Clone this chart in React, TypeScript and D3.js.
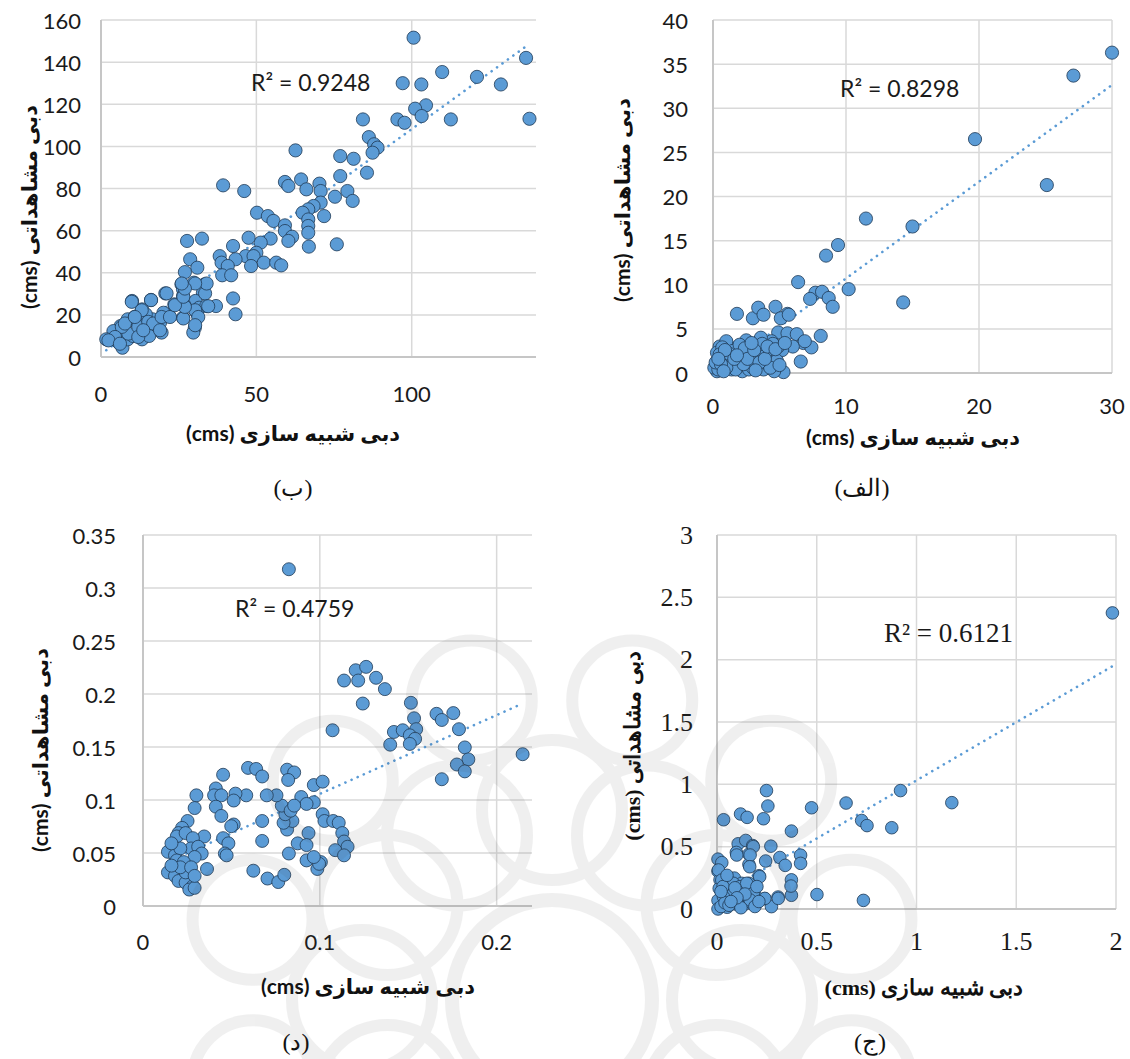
import React from "react";
import * as d3 from "d3";

// ---------- DATA ----------
// Panel (ب): simulated vs observed
const pointsB: [number, number][] = [
  [100.6,151.6],[136.8,142],[109.8,135.3],[121,133],[97.1,130],[103.1,129.4],[128.7,129.4],[104.6,119.5],[101.1,117.9],[103.2,114.4],
  [84.3,112.8],[95.4,112.8],[97.7,111.2],[112.6,112.8],[137.9,113.1],[86.2,104.4],[87.9,101],[89,99.4],[87.4,97],[62.6,98.1],
  [77,95.4],[81.3,94.1],[85.6,87.5],[77,85.9],[39.3,81.5],[46.1,78.8],[59.2,83.1],[60.3,81.2],[64.4,84.3],[70.3,82.3],
  [66.1,79.6],[70.7,78.8],[79.3,78.8],[75.3,76.1],[81,74.1],[70.7,73.3],[68.4,71.7],[66.7,70.1],[64.9,68.5],[71.8,66.9],
  [66.7,65.3],[66.7,62.2],[66.7,59],[66.9,52.4],[75.9,53.5],[50.2,68.5],[53.7,66.9],[55.5,64.6],[59.2,62.5],[59.2,59.8],
  [61.5,57.1],[60.3,55.1],[54.6,56.2],[51.4,54.3],[47.5,56.6],[27.7,55.1],[32.5,56.2],[42.5,52.7],[50,49.5],[46.6,47.9],
  [49.1,47.9],[43.3,46.4],[38.2,47.9],[38.8,44.8],[40.8,43.2],[48.3,43.2],[52.4,44.8],[56.4,44.8],[58,43.5],[39,38.8],
  [41.9,38.8],[28.7,46.4],[31,42.4],[27,40.3],[29.9,35.3],[33.3,34.5],[32.8,30.5],[25.9,34.5],[26.4,32.1],[26.4,29],
  [20.7,30.2],[30.4,26.6],[26.9,24.5],[31.6,23.4],[33.9,24.2],[37,24.2],[42.5,27.8],[43.3,20.3],[30.8,21],[30.2,13.9],
  [29.7,11.6],[26.4,18.7],[23.6,25],[21.8,19.8],[20.1,21],[19,16.3],[19.5,11.6],[17.8,13.9],[16.1,27.1],[10,26.6],
  [13.2,22.6],[16.6,17.9],[15.1,13.1],[12.6,12.3],[11.5,16.3],[8.6,17.9],[6.3,14.7],[4,12.3],[1.7,8.4],[5.7,6.8],
  [6.9,4.4],[8.6,8.4],[10.3,10],[13.2,8.4],[7.5,11.6],[15.5,10],[10.9,19.1],[14.4,20.3],
  [8.8,11.1],[12,14.3],[15.2,16.7],[16.8,15.9],[19,12.7],[19.5,19],[22.2,19],[26.5,18.3],[30.3,22.2],[31.3,19],
  [27,23.8],[23.8,24.6],[13.1,22.2],[9.9,26.2],[16.1,27],[21.1,30.2],[26.5,28.6],[33.5,30.2],[34,34.9],[30.3,34.9],
  [27,32.5],[26,34.9],[34.5,24.1],[30.3,15.1],[6.7,14.3],[4.5,9.5],[2.4,7.9],[6.1,6.3],[12,9.5],[13.6,12.7],
  [7.7,15.9],[10.9,19]
];

// Panel (الف)
const pointsA: [number, number][] = [
  [30,36.3],[27.1,33.7],[19.7,26.5],[25.1,21.3],[11.5,17.5],[15,16.6],[9.4,14.5],[8.5,13.3],[6.4,10.3],[10.2,9.5],
  [14.3,8],[7.7,9.1],[8.2,9.2],[8.7,8.5],[7.3,8.4],[9,7.5],[1.8,6.7],[3,6.2],[3.4,7.4],[3.8,6.6],
  [4.7,7.5],[5.6,6.7],[5.1,6.2],[8.1,4.2],[6.6,1.3],[4.9,4.6],[5.6,4.5],[6.3,4.4],[6.8,3.4],[7.4,2.9],
  [6,3],[5.2,2.6],[3.6,3.8],[2.5,3.7],[1.7,2.7],[1,3.4],[0.5,3],[0.3,2.3],[0.3,0.2],[0.1,0.6],
  [5.3,0.1],[3.3,1.5],[1.9,0.8],[2.7,2.3],[3.8,2.6],[4.4,1.9],[4.9,3.0],[1.1,1.5],[1.4,0.4],[2.2,0.2],
  [2.7,0.4],[3.8,0.4],[4.6,0.2],[4.2,0.9],[2.3,1.3],[0.7,2.1],[1.4,2.8],[3.3,3.0],[4.4,3.6],
  [5.7,6.6],[6.9,3.6],[3.6,4.0],[1.9,2.8],[1.0,3.6],[0.7,2.9],[0.5,2.1],[0.4,0.4],[1.3,1.0],[2.0,1.8],
  [2.8,2.2],[3.4,1.8],[4.0,2.4],[4.5,3.3],[4.8,1.4],[4.3,0.6],[3.0,0.6],[1.7,0.4],[1.0,0.6],[3.7,3.3],
  [1.5,2.5],[2.3,1.0],[0.2,1.2],[0.6,1.0],[0.8,0.2],[1.2,2.2],[1.6,1.6],[2.0,3.2],[2.4,2.8],[2.6,1.6],
  [3.1,2.6],[3.5,1.2],[3.9,1.6],[4.1,3.0],[0.9,2.6],[1.8,2.0],[2.9,3.4],[3.2,0.3],[0.4,1.6],[5.0,0.9],
  [4.7,2.7],[5.4,3.4]
];

// Panel (د)
const pointsD: [number, number][] = [
  [0.0825,0.3177],[0.1072,0.1658],[0.1137,0.2127],[0.1203,0.2224],[0.1262,0.2256],[0.1217,0.2127],[0.1318,0.2153],[0.1368,0.2046],
  [0.1243,0.191],[0.1515,0.1917],[0.1533,0.1771],[0.1419,0.1642],[0.1469,0.1658],[0.1545,0.1668],[0.1509,0.161],[0.1539,0.1577],
  [0.1398,0.1522],[0.1509,0.1529],[0.166,0.1813],[0.169,0.1755],[0.1755,0.182],[0.1787,0.1668],[0.182,0.1496],[0.184,0.1383],
  [0.1775,0.1335],[0.182,0.127],[0.169,0.1196],[0.2147,0.1432],[0.0966,0.1141],[0.1016,0.1173],[0.0895,0.1028],[0.0966,0.0979],
  [0.0925,0.0963],[0.1016,0.0866],[0.1026,0.0802],[0.1076,0.0802],[0.1107,0.0785],[0.1127,0.0688],[0.1137,0.0608],[0.1157,0.0559],
  [0.1087,0.0527],[0.1137,0.0478],[0.1006,0.0414],[0.0986,0.0349],[0.0996,0.0398],[0.0925,0.043],[0.0966,0.0462],[0.0936,0.0688],
  [0.0875,0.0591],[0.0925,0.0575],[0.0825,0.0495],[0.0815,0.0721],[0.0845,0.0802],[0.0795,0.0785],[0.0805,0.0866],[0.0785,0.0947],
  [0.0835,0.0899],[0.0855,0.0947],[0.0755,0.1044],[0.07,0.1044],[0.0815,0.1286],[0.0855,0.126],[0.0821,0.1189],[0.0674,0.0802],
  [0.0674,0.0614],[0.0594,0.1303],[0.064,0.1293],[0.0674,0.1222],[0.0584,0.1044],[0.0523,0.106],[0.0513,0.0995],[0.0453,0.1238],
  [0.0412,0.1109],[0.0402,0.1044],[0.0443,0.1044],[0.0412,0.0937],[0.0443,0.085],[0.0513,0.0769],[0.0499,0.0753],[0.0453,0.064],
  [0.0483,0.0591],[0.0463,0.0495],[0.0473,0.0478],[0.0346,0.0656],[0.0362,0.0349],[0.0302,0.1044],[0.0292,0.0924],[0.0624,0.0333],
  [0.0704,0.0259],[0.0765,0.0226],[0.0799,0.0294],[0.0252,0.0802],[0.0221,0.0737],[0.0201,0.0688],[0.0191,0.0656],[0.0241,0.0688],
  [0.0282,0.064],[0.0272,0.0543],[0.0312,0.0559],[0.0332,0.0495],[0.0292,0.0462],[0.0141,0.0511],[0.0181,0.0478],[0.0211,0.0543],
  [0.0161,0.0591],[0.0191,0.043],[0.0231,0.0414],[0.0141,0.0317],[0.0181,0.0284],[0.0201,0.0236],[0.0241,0.022],[0.0282,0.0187],
  [0.0262,0.0155],[0.0292,0.0171],[0.0241,0.0317],[0.0211,0.0365],[0.0272,0.0365],[0.0161,0.0381],[0.0292,0.0284]
];

// Panel (ج)
const pointsC: [number, number][] = [
  [1.982,2.375],[0.92,0.95],[1.177,0.853],[0.647,0.85],[0.474,0.812],[0.248,0.95],[0.255,0.826],[0.033,0.716],[0.118,0.762],[0.151,0.735],
  [0.233,0.724],[0.725,0.71],[0.752,0.669],[0.876,0.652],[0.373,0.625],[0.106,0.523],[0.144,0.55],[0.179,0.509],[0.27,0.504],[0.097,0.454],
  [0.16,0.44],[0.244,0.385],[0.315,0.413],[0.342,0.35],[0.419,0.432],[0.419,0.366],[0.16,0.358],[0.211,0.267],[0.373,0.234],[0.373,0.11],
  [0.306,0.096],[0.239,0.083],[0.273,0.019],[0.501,0.116],[0.734,0.069],[0.005,0.4],[0.024,0.372],[0.005,0.303],[0.015,0.234],[0.011,0.165],
  [0.033,0.124],[0.005,0.069],[0.005,0.0],[0.051,0.069],[0.087,0.248],[0.124,0.206],[0.16,0.206],[0.069,0.151],[0.106,0.138],[0.142,0.165],
  [0.179,0.151],[0.16,0.096],[0.124,0.069],[0.087,0.041],[0.051,0.014],[0.142,0.041],[0.197,0.096],[0.06,0.22],[0.042,0.11],[0.078,0.096],
  [0.115,0.028],[0.169,0.055],[0.182,0.5],[0.099,0.433],[0.166,0.433],[0.164,0.339],[0.214,0.259],[0.371,0.184],[0.307,0.085],[0.24,0.085],
  [0.007,0.313],[0.024,0.232],[0.082,0.206],[0.115,0.179],[0.149,0.206],[0.082,0.126],[0.132,0.112],[0.182,0.126],[0.032,0.099],[0.166,0.072],
  [0.099,0.058],[0.02,0.02],[0.04,0.05],[0.06,0.03],[0.03,0.18],[0.05,0.27],[0.09,0.17],[0.12,0.01],[0.19,0.02],[0.21,0.06],
  [0.14,0.12],[0.1,0.09],[0.07,0.06],[0.02,0.14],[0.2,0.18]
];

// trendline coefficients [slope, intercept]
const trendB = [1.068, 1.4];
const trendA = [1.096, -0.24];
const trendD = [0.744, 0.0313];
const trendC = [0.932, 0.1];

const r2Labels = ["R² = 0.9248", "R² = 0.8298", "R² = 0.4759", "R² = 0.6121"];
const captions = ["(ب)", "(الف)", "(د)", "(ج)"];
const xTitle = "دبی شبیه سازی (cms)";
const yTitle = "دبی مشاهداتی (cms)";

const xTicksB = [0, 50, 100];
const yTicksB = [0, 20, 40, 60, 80, 100, 120, 140, 160];
const xTicksA = [0, 10, 20, 30];
const yTicksA = [0, 5, 10, 15, 20, 25, 30, 35, 40];
const xTicksD = [0, 0.1, 0.2];
const yTicksD = [0, 0.05, 0.1, 0.15, 0.2, 0.25, 0.3, 0.35];
const xTicksC = [0, 0.5, 1, 1.5, 2];
const yTicksC = [0, 0.5, 1, 1.5, 2, 2.5, 3];

// ---------- LAYOUT ----------
const SANS = "Lato, 'DejaVu Sans', sans-serif";
const SERIF = "'Liberation Serif', 'DejaVu Serif', serif";
const BLUE = "#5B9BD5";

type PanelCfg = {
  points: [number, number][];
  trend: number[];
  xTicks: number[];
  yTicks: number[];
  xMax: number;
  r2: string;
  caption: string;
  box: [number, number, number, number]; // left, right, top, bottom
  font: string;
  fontSize: number;
  yLabelX: number;
  xLabelY: number;
  xTitlePos: [number, number];
  yTitlePos: [number, number];
  captionPos: [number, number];
  r2Pos: [number, number];
  titleSize: number;
  r: number;
};

const panels: PanelCfg[] = [
  {
    points: pointsB, trend: trendB, xTicks: xTicksB, yTicks: yTicksB, xMax: 140,
    r2: r2Labels[0], caption: captions[0], box: [101, 536, 20, 357], font: SANS, fontSize: 22,
    yLabelX: 81, xLabelY: 393, xTitlePos: [293, 432], yTitlePos: [28, 207], captionPos: [293, 488],
    r2Pos: [251, 82], titleSize: 21, r: 6.6,
  },
  {
    points: pointsA, trend: trendA, xTicks: xTicksA, yTicks: yTicksA, xMax: 30,
    r2: r2Labels[1], caption: captions[1], box: [713, 1112, 20, 373], font: SANS, fontSize: 22,
    yLabelX: 688, xLabelY: 405, xTitlePos: [913, 436], yTitlePos: [621, 200], captionPos: [862, 488],
    r2Pos: [840, 88], titleSize: 21, r: 6.6,
  },
  {
    points: pointsD, trend: trendD, xTicks: xTicksD, yTicks: yTicksD, xMax: 0.22,
    r2: r2Labels[2], caption: captions[2], box: [143, 532, 535, 906], font: SANS, fontSize: 22,
    yLabelX: 116, xLabelY: 941, xTitlePos: [368, 985], yTitlePos: [39, 750], captionPos: [296, 1042],
    r2Pos: [235, 608], titleSize: 21, r: 6.5,
  },
  {
    points: pointsC, trend: trendC, xTicks: xTicksC, yTicks: yTicksC, xMax: 2,
    r2: r2Labels[3], caption: captions[3], box: [717, 1116, 535, 909], font: SERIF, fontSize: 26,
    yLabelX: 693, xLabelY: 941, xTitlePos: [924, 987], yTitlePos: [632, 746], captionPos: [870, 1042],
    r2Pos: [884, 633], titleSize: 22, r: 6.3,
  },
];

const fmt = (v: number) => `${+v.toFixed(3)}`;

function Panel({ p }: { p: PanelCfg }) {
  const [left, right, top, bottom] = p.box;
  const yMax = p.yTicks[p.yTicks.length - 1];
  const x = d3.scaleLinear().domain([0, p.xMax]).range([left, right]);
  const y = d3.scaleLinear().domain([0, yMax]).range([bottom, top]);
  const [xmin, xmax] = d3.extent(p.points, (d) => d[0]) as [number, number];
  const line = d3
    .line<number>()
    .x((d) => x(d))
    .y((d) => y(p.trend[0] * d + p.trend[1]));
  const titleFont = p.font;
  return (
    <g>
      {p.yTicks.map((t) => (
        <line key={"h" + t} x1={left} x2={right} y1={y(t)} y2={y(t)} stroke="#d9d9d9" strokeWidth={t === 0 ? 2 : 1.5} />
      ))}
      {p.xTicks.filter((t) => t > 0).map((t) => (
        <line key={"v" + t} x1={x(t)} x2={x(t)} y1={top} y2={bottom} stroke="#d9d9d9" strokeWidth={1.5} />
      ))}
      <line x1={left} x2={left} y1={top} y2={bottom} stroke="#c6c6c6" strokeWidth={2} />
      <line x1={left} x2={right} y1={bottom} y2={bottom} stroke="#c6c6c6" strokeWidth={2} />
      {p.yTicks.map((t) => (
        <text key={"yl" + t} x={p.yLabelX} y={y(t)} textAnchor="end" dominantBaseline="central"
          fontFamily={p.font} fontSize={p.fontSize} fill="#1a1a1a">{fmt(t)}</text>
      ))}
      {p.xTicks.map((t) => (
        <text key={"xl" + t} x={x(t)} y={p.xLabelY} textAnchor="middle" dominantBaseline="central"
          fontFamily={p.font} fontSize={p.fontSize} fill="#1a1a1a">{fmt(t)}</text>
      ))}
      <path d={line([xmin, xmax]) || ""} stroke={BLUE} strokeWidth={2.6} strokeLinecap="round"
        strokeDasharray="0.1 6.6" fill="none" />
      {p.points.map((d, i) => (
        <circle key={i} cx={x(d[0])} cy={y(d[1])} r={p.r} fill={BLUE} stroke="#203a55" strokeWidth={0.8} />
      ))}
      <text x={p.r2Pos[0]} y={p.r2Pos[1]} dominantBaseline="central" fontFamily={p.font}
        fontSize={p.fontSize + 1} fill="#1a1a1a">{p.r2}</text>
      <text x={p.xTitlePos[0]} y={p.xTitlePos[1]} textAnchor="middle" dominantBaseline="central"
        direction="rtl" unicodeBidi="embed" fontFamily={titleFont} fontWeight="bold" fontSize={p.titleSize} fill="#111">{xTitle}</text>
      <text transform={`translate(${p.yTitlePos[0]},${p.yTitlePos[1]}) rotate(-90)`} textAnchor="middle"
        dominantBaseline="central" direction="rtl" unicodeBidi="embed" fontFamily={titleFont}
        fontWeight="bold" fontSize={p.titleSize} fill="#111">{yTitle}</text>
      <text x={p.captionPos[0]} y={p.captionPos[1]} textAnchor="middle" dominantBaseline="central"
        direction="rtl" unicodeBidi="embed" fontFamily={SERIF} fontSize={24} fill="#111">{p.caption}</text>
    </g>
  );
}

// faint ornamental watermark (decoration)
const wmRings = d3.range(12);
function Watermark() {
  const cx = 552, cy = 1000;
  return (
    <g opacity={0.08} fill="none" stroke="#444" pointerEvents="none">
      {wmRings.map((k) => {
        const a = (k * Math.PI) / 6;
        return <circle key={"a" + k} cx={cx + 190 * Math.cos(a)} cy={cy + 190 * Math.sin(a)} r={70} strokeWidth={12} />;
      })}
      {wmRings.map((k) => {
        const a = (k * Math.PI) / 6 + Math.PI / 12;
        return <circle key={"b" + k} cx={cx + 310 * Math.cos(a)} cy={cy + 310 * Math.sin(a)} r={60} strokeWidth={12} />;
      })}
      <circle cx={cx} cy={cy} r={100} strokeWidth={14} />
    </g>
  );
}

export default function App() {
  return (
    <svg width={1130} height={1059} viewBox="0 0 1130 1059"
      style={{ position: "absolute", left: 0, top: 0, background: "#fff" }}>
      <rect x={0} y={0} width={1130} height={1059} fill="#fff" />
      {panels.map((p, i) => <Panel key={i} p={p} />)}
      <Watermark />
    </svg>
  );
}
